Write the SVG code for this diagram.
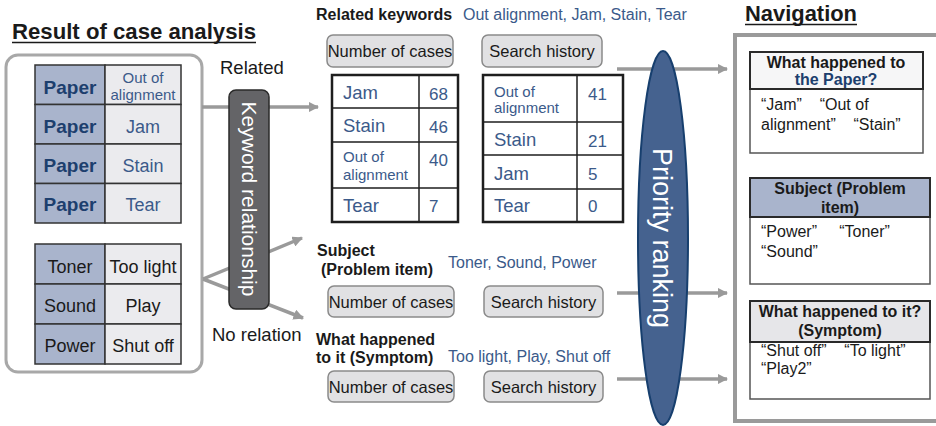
<svg xmlns="http://www.w3.org/2000/svg" width="936" height="426" viewBox="0 0 936 426">
<defs>
<marker id="ah2" viewBox="0 0 10 10" refX="9" refY="5" markerWidth="3" markerHeight="3" orient="auto" markerUnits="strokeWidth">
<path d="M0,0 L10,5 L0,10 z" fill="#9a9a9a"/>
</marker>
</defs>
<style>
text{font-family:"Liberation Sans",Arial,sans-serif;}
.b{font-weight:bold;}
.blue{fill:#3b5a8a;}
.dblue{fill:#1d3f6e;}
.k{fill:#1a1a1a;}
.cellA{fill:#a9b4cc;stroke:#333;stroke-width:1.5;}
.cellB{fill:#ebebee;stroke:#333;stroke-width:1.5;}
.btn{fill:#e1e1e3;stroke:#8a8a8a;stroke-width:1.5;}
.tbl{fill:#fff;stroke:#1e1e1e;stroke-width:2.5;}
.tl{stroke:#1e1e1e;stroke-width:1.5;}
.conn{stroke:#9a9a9a;stroke-width:3.5;fill:none;}
.hdr{stroke:#2a2a2a;stroke-width:2;}
.body{fill:#fff;stroke:#555;stroke-width:1.5;}
</style>

<!-- Titles -->
<g id="title-left">
<text x="12" y="39" font-size="22" class="b k" textLength="244" lengthAdjust="spacingAndGlyphs">Result of case analysis</text>
<line x1="12" y1="42.5" x2="256" y2="42.5" stroke="#1a1a1a" stroke-width="1.5"/>
</g>
<g id="title-nav">
<text x="745" y="21" font-size="21.5" class="b k" textLength="112" lengthAdjust="spacingAndGlyphs">Navigation</text>
<line x1="745" y1="24.5" x2="857" y2="24.5" stroke="#1a1a1a" stroke-width="1.5"/>
</g>

<!-- Left analysis box -->
<g id="analysis">
<rect x="6" y="55" width="196" height="317" rx="12" fill="#fff" stroke="#a8a8a8" stroke-width="3"/>
<rect x="35" y="65" width="70" height="39.5" class="cellA"/>
<rect x="105" y="65" width="76" height="39.5" class="cellB"/>
<rect x="35" y="104.5" width="70" height="39.5" class="cellA"/>
<rect x="105" y="104.5" width="76" height="39.5" class="cellB"/>
<rect x="35" y="144" width="70" height="39.5" class="cellA"/>
<rect x="105" y="144" width="76" height="39.5" class="cellB"/>
<rect x="35" y="183.5" width="70" height="39.5" class="cellA"/>
<rect x="105" y="183.5" width="76" height="39.5" class="cellB"/>
<g font-size="19" class="b dblue" text-anchor="middle">
<text x="70" y="94">Paper</text>
<text x="70" y="133">Paper</text>
<text x="70" y="172">Paper</text>
<text x="70" y="211">Paper</text>
</g>
<g class="blue" text-anchor="middle">
<text x="143" y="83" font-size="15">Out of</text>
<text x="143" y="100" font-size="15">alignment</text>
<text x="143" y="133" font-size="18">Jam</text>
<text x="143" y="172" font-size="18">Stain</text>
<text x="143" y="211" font-size="18">Tear</text>
</g>
<rect x="35" y="244" width="70" height="40" class="cellA"/>
<rect x="105" y="244" width="76" height="40" class="cellB"/>
<rect x="35" y="284" width="70" height="40" class="cellA"/>
<rect x="105" y="284" width="76" height="40" class="cellB"/>
<rect x="35" y="324" width="70" height="40" class="cellA"/>
<rect x="105" y="324" width="76" height="40" class="cellB"/>
<g font-size="18" class="k" text-anchor="middle">
<text x="70" y="273">Toner</text>
<text x="143" y="273">Too light</text>
<text x="70" y="312">Sound</text>
<text x="143" y="312">Play</text>
<text x="70" y="352">Power</text>
<text x="143" y="352">Shut off</text>
</g>
</g>

<!-- Connectors -->
<g id="connectors">
<line x1="202" y1="107" x2="318" y2="107" class="conn" marker-end="url(#ah2)"/>
<line x1="203" y1="279" x2="302" y2="238" class="conn" marker-end="url(#ah2)"/>
<line x1="203" y1="279" x2="303" y2="318" class="conn" marker-end="url(#ah2)"/>
<line x1="617" y1="69" x2="727" y2="69" class="conn" stroke-width="4" marker-end="url(#ah2)"/>
<line x1="617" y1="293" x2="727" y2="293" class="conn" stroke-width="4" marker-end="url(#ah2)"/>
<line x1="617" y1="379" x2="727" y2="379" class="conn" stroke-width="4" marker-end="url(#ah2)"/>
</g>

<g id="labels-rel">
<text x="220" y="74" font-size="18.5" class="k">Related</text>
<text x="212" y="341" font-size="18.5" class="k">No relation</text>
</g>

<!-- Keyword relationship bar -->
<g id="keyword-bar">
<rect x="229" y="90" width="40" height="219" rx="7" fill="#646467" stroke="#2a2a2a" stroke-width="1.5"/>
<text transform="translate(242,199) rotate(90)" x="0" y="0" font-size="21" fill="#fff" text-anchor="middle">Keyword relationship</text>
</g>

<!-- Related keywords section -->
<g id="related">
<text x="316" y="20" font-size="16" class="b k">Related keywords</text>
<text x="463" y="20" font-size="16" class="blue">Out alignment, Jam, Stain, Tear</text>
<rect x="327" y="35" width="126" height="32" rx="6" class="btn"/>
<text x="390" y="57" font-size="16.5" class="k" text-anchor="middle">Number of cases</text>
<rect x="482" y="35" width="120" height="32" rx="6" class="btn"/>
<text x="542" y="57" font-size="16.5" class="k" text-anchor="middle">Search history</text>
</g>

<g id="table-cases">
<rect x="332" y="75" width="126" height="147" class="tbl"/>
<line x1="419" y1="75" x2="419" y2="222" class="tl"/>
<line x1="332" y1="108" x2="458" y2="108" class="tl"/>
<line x1="332" y1="142" x2="458" y2="142" class="tl"/>
<line x1="332" y1="188" x2="458" y2="188" class="tl"/>
<g class="blue">
<text x="343" y="99" font-size="18.5">Jam</text>
<text x="343" y="132" font-size="18.5">Stain</text>
<text x="343" y="162" font-size="15">Out of</text>
<text x="343" y="180" font-size="15">alignment</text>
<text x="343" y="212" font-size="18.5">Tear</text>
<text x="429" y="100" font-size="17">68</text>
<text x="429" y="133" font-size="17">46</text>
<text x="429" y="166" font-size="17">40</text>
<text x="429" y="212" font-size="17">7</text>
</g>
</g>

<g id="table-history">
<rect x="483" y="75" width="140" height="147" class="tbl"/>
<line x1="577" y1="75" x2="577" y2="222" class="tl"/>
<line x1="483" y1="122" x2="623" y2="122" class="tl"/>
<line x1="483" y1="155" x2="623" y2="155" class="tl"/>
<line x1="483" y1="189" x2="623" y2="189" class="tl"/>
<g class="blue">
<text x="494" y="97" font-size="15">Out of</text>
<text x="494" y="113" font-size="15">alignment</text>
<text x="494" y="146" font-size="18.5">Stain</text>
<text x="494" y="180" font-size="18.5">Jam</text>
<text x="494" y="212" font-size="18.5">Tear</text>
<text x="588" y="100" font-size="17">41</text>
<text x="588" y="147" font-size="17">21</text>
<text x="588" y="180" font-size="17">5</text>
<text x="588" y="212" font-size="17">0</text>
</g>
</g>

<!-- Subject section -->
<g id="subject">
<text x="317" y="256" font-size="16" class="b k">Subject</text>
<text x="321" y="275" font-size="16" class="b k">(Problem item)</text>
<text x="448" y="268" font-size="16" class="blue">Toner, Sound, Power</text>
<rect x="328" y="286" width="126" height="31" rx="6" class="btn"/>
<text x="391" y="308" font-size="16.5" class="k" text-anchor="middle">Number of cases</text>
<rect x="484" y="286" width="119" height="31" rx="6" class="btn"/>
<text x="543.5" y="308" font-size="16.5" class="k" text-anchor="middle">Search history</text>
</g>

<!-- Symptom section -->
<g id="symptom">
<text x="316" y="345" font-size="16" class="b k">What happened</text>
<text x="316" y="363" font-size="16" class="b k">to it (Symptom)</text>
<text x="448" y="362" font-size="16" class="blue">Too light, Play, Shut off</text>
<rect x="328" y="371" width="126" height="31" rx="6" class="btn"/>
<text x="391" y="393" font-size="16.5" class="k" text-anchor="middle">Number of cases</text>
<rect x="484" y="371" width="119" height="31" rx="6" class="btn"/>
<text x="543.5" y="393" font-size="16.5" class="k" text-anchor="middle">Search history</text>
</g>

<!-- Priority ranking -->
<g id="priority">
<ellipse cx="663" cy="238" rx="25" ry="187" fill="#45628f" stroke="#173f6e" stroke-width="2"/>
<text transform="translate(653,238) rotate(90)" x="0" y="0" font-size="27" fill="#fff" text-anchor="middle">Priority ranking</text>
</g>

<!-- Navigation panel -->
<g id="nav-frame">
<rect x="735" y="35" width="240" height="386" fill="#fff" stroke="#9a9a9a" stroke-width="4"/>
</g>

<g id="nav-paper">
<rect x="750" y="89" width="173" height="64" class="body"/>
<rect x="750" y="52" width="173" height="37" fill="#f6f6f7" class="hdr"/>
<text x="836" y="68" font-size="16" class="b k" text-anchor="middle">What happened to</text>
<text x="836" y="85" font-size="16" class="b dblue" text-anchor="middle">the Paper?</text>
<text x="761" y="110" font-size="16" class="k" xml:space="preserve">“Jam”    “Out of</text>
<text x="761" y="130" font-size="16" class="k" xml:space="preserve">alignment”    “Stain”</text>
</g>

<g id="nav-subject">
<rect x="750" y="217" width="180" height="67" class="body"/>
<rect x="750" y="178" width="180" height="39" fill="#a9b4cc" class="hdr"/>
<text x="840" y="194" font-size="16" class="b k" text-anchor="middle">Subject (Problem</text>
<text x="840" y="213" font-size="16" class="b k" text-anchor="middle">item)</text>
<text x="761" y="237" font-size="16" class="k" xml:space="preserve">“Power”     “Toner”</text>
<text x="761" y="257" font-size="16" class="k">“Sound”</text>
</g>

<g id="nav-symptom">
<rect x="750" y="342" width="180" height="57" class="body"/>
<rect x="750" y="301" width="180" height="41" fill="#e6e6e9" class="hdr"/>
<text x="840" y="317" font-size="16" class="b k" text-anchor="middle">What happened to it?</text>
<text x="840" y="336" font-size="16" class="b k" text-anchor="middle">(Symptom)</text>
<text x="761" y="356" font-size="16" class="k" xml:space="preserve">“Shut off”    “To light”</text>
<text x="761" y="374" font-size="16" class="k">“Play2”</text>
</g>
</svg>
